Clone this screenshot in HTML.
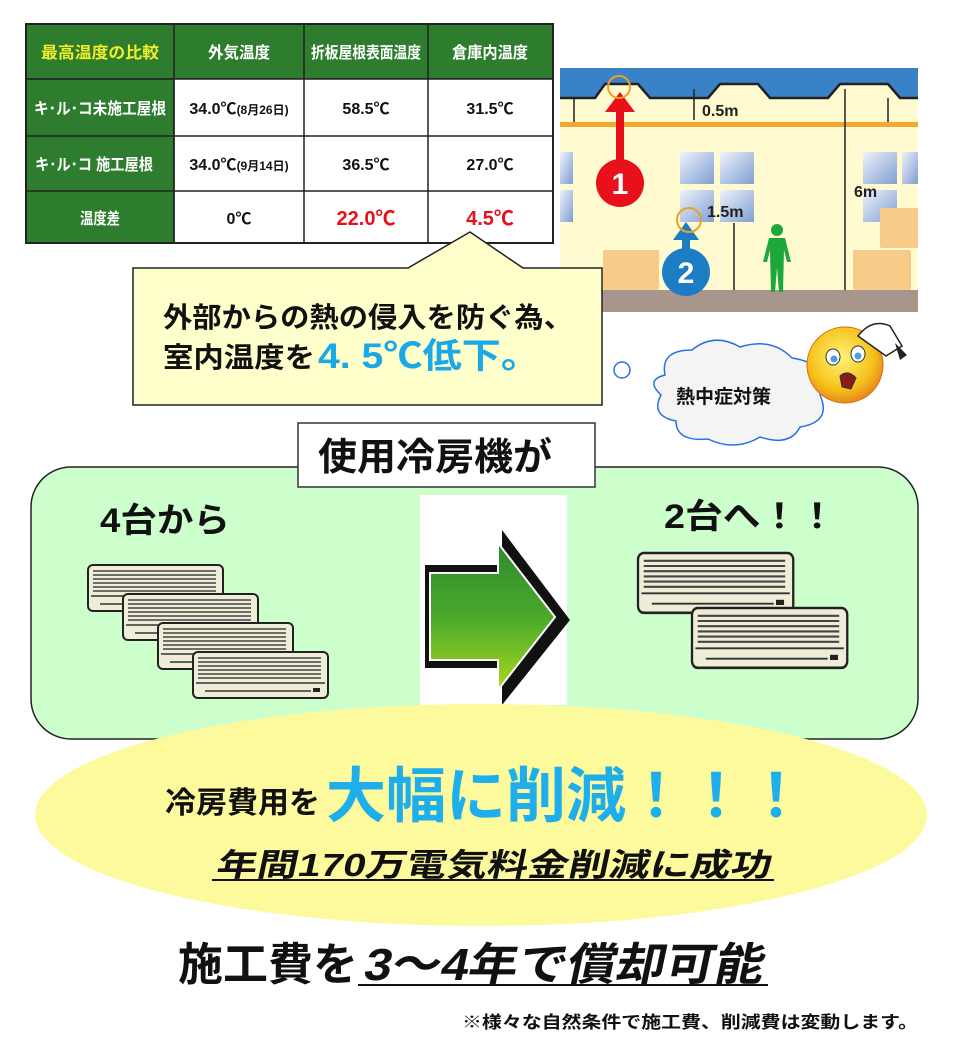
<!DOCTYPE html>
<html><head><meta charset="utf-8"><style>
html,body{margin:0;padding:0;background:#fff;}
svg{display:block;}
text{font-family:"Liberation Sans","Noto Sans CJK JP",sans-serif;font-weight:bold;}
</style></head><body>
<svg width="960" height="1044" viewBox="0 0 960 1044" xmlns="http://www.w3.org/2000/svg">
<defs>
<linearGradient id="ag" x1="0" y1="0" x2="0" y2="1"><stop offset="0" stop-color="#2e8b2e"/><stop offset="0.5" stop-color="#4aa82a"/><stop offset="1" stop-color="#a8d820"/></linearGradient>
<linearGradient id="win" x1="0" y1="0" x2="1" y2="1"><stop offset="0" stop-color="#eef2fb"/><stop offset="1" stop-color="#7f9fd2"/></linearGradient>
<radialGradient id="face" cx="0.45" cy="0.4" r="0.6"><stop offset="0" stop-color="#fff27a"/><stop offset="0.7" stop-color="#f6c21a"/><stop offset="1" stop-color="#e8891a"/></radialGradient>
<g id="ac">
<rect x="0" y="0" width="135" height="46" rx="5" fill="#efecd8" stroke="#222" stroke-width="2"/>
<g stroke="#444" stroke-width="1.6">
<line x1="5" y1="6" x2="128" y2="6"/><line x1="5" y1="10" x2="128" y2="10"/><line x1="5" y1="14" x2="128" y2="14"/><line x1="5" y1="18" x2="128" y2="18"/><line x1="5" y1="22" x2="128" y2="22"/><line x1="5" y1="26" x2="128" y2="26"/>
</g>
<line x1="3" y1="31" x2="132" y2="31" stroke="#333" stroke-width="1.5"/>
<line x1="12" y1="39" x2="118" y2="39" stroke="#333" stroke-width="1.5"/>
<rect x="120" y="36" width="7" height="4" fill="#222"/>
</g>
</defs>

<!-- table -->
<g stroke="#222" stroke-width="1.5">
<rect x="26" y="24" width="527" height="55" fill="#2e7d2e"/>
<rect x="26" y="79" width="148" height="164" fill="#2e7d2e"/>
<rect x="174" y="79" width="379" height="164" fill="#fff"/>
<line x1="26" y1="136" x2="553" y2="136"/><line x1="26" y1="191" x2="553" y2="191"/>
<line x1="174" y1="24" x2="174" y2="243"/><line x1="304" y1="24" x2="304" y2="243"/><line x1="428" y1="24" x2="428" y2="243"/>
<rect x="26" y="24" width="527" height="219" fill="none" stroke-width="2"/>
</g>
<g font-size="16" text-anchor="middle">
<text x="100" y="58" fill="#f2ef2a" textLength="118" lengthAdjust="spacingAndGlyphs">最高温度の比較</text>
<text x="239" y="58" fill="#fff" textLength="62" lengthAdjust="spacingAndGlyphs">外気温度</text>
<text x="366" y="58" fill="#fff" textLength="110" lengthAdjust="spacingAndGlyphs">折板屋根表面温度</text>
<text x="490" y="58" fill="#fff" textLength="76" lengthAdjust="spacingAndGlyphs">倉庫内温度</text>
<text x="100" y="114" fill="#fff" textLength="132" lengthAdjust="spacingAndGlyphs">キ･ル･コ未施工屋根</text>
<text x="94" y="170" fill="#fff" textLength="118" lengthAdjust="spacingAndGlyphs">キ･ル･コ 施工屋根</text>
<text x="100" y="224" fill="#fff" textLength="40" lengthAdjust="spacingAndGlyphs">温度差</text>
<text x="239" y="114" fill="#111" font-weight="normal">34.0℃<tspan font-size="12">(8月26日)</tspan></text>
<text x="239" y="170" fill="#111" font-weight="normal">34.0℃<tspan font-size="12">(9月14日)</tspan></text>
<text x="366" y="114" fill="#111" font-weight="normal">58.5℃</text>
<text x="366" y="170" fill="#111" font-weight="normal">36.5℃</text>
<text x="490" y="114" fill="#111" font-weight="normal">31.5℃</text>
<text x="490" y="170" fill="#111" font-weight="normal">27.0℃</text>
<text x="239" y="224" fill="#111" font-weight="normal">0℃</text>
<text x="366" y="225" fill="#e8101a" font-size="20">22.0℃</text>
<text x="490" y="225" fill="#e8101a" font-size="20">4.5℃</text>
</g>

<!-- building -->
<rect x="560" y="68" width="358" height="244" fill="#fffad0"/>
<path d="M560 68 H918 V98 L900 98 L888 84 H840 L828 98 H770 L758 84 H720 L708 98 H650 L638 84 H605 L595 98 H560 Z" fill="#3a82c8"/>
<path d="M560 98 H595 L605 84 H638 L650 98 H708 L720 84 H758 L770 98 H828 L840 84 H888 L900 98 H918" fill="none" stroke="#222" stroke-width="2.5"/>
<rect x="560" y="122" width="358" height="5" fill="#f0a830"/>
<line x1="574" y1="98" x2="574" y2="122" stroke="#222" stroke-width="1.5"/><line x1="888" y1="98" x2="888" y2="122" stroke="#222" stroke-width="1.5"/>
<rect x="560" y="290" width="358" height="22" fill="#a8968c"/>
<g fill="url(#win)">
<rect x="560" y="152" width="13" height="32"/><rect x="560" y="190" width="13" height="32"/>
<rect x="680" y="152" width="34" height="32"/><rect x="720" y="152" width="34" height="32"/>
<rect x="680" y="190" width="34" height="32"/><rect x="720" y="190" width="34" height="32"/>
<rect x="863" y="152" width="34" height="32"/><rect x="902" y="152" width="16" height="32"/>
<rect x="863" y="190" width="34" height="32"/>
</g>
<g fill="#f8cc88">
<rect x="603" y="250" width="56" height="40" rx="2"/>
<rect x="880" y="208" width="38" height="40" rx="2"/>
<rect x="853" y="250" width="58" height="40" rx="2"/>
</g>
<rect x="616" y="100" width="8" height="70" fill="#e8101a"/>
<path d="M605 112 L620 92 L635 112 Z" fill="#e8101a"/>
<circle cx="620" cy="183" r="24" fill="#e8101a"/>
<text x="620" y="194" font-size="30" fill="#fff" text-anchor="middle">1</text>
<circle cx="619" cy="87" r="11" fill="none" stroke="#f0a020" stroke-width="2"/>
<rect x="682" y="230" width="8" height="20" fill="#1c7cc4"/>
<path d="M673 240 L686 222 L699 240 Z" fill="#1c7cc4"/>
<circle cx="686" cy="272" r="24" fill="#1c7cc4"/>
<text x="686" y="283" font-size="30" fill="#fff" text-anchor="middle">2</text>
<circle cx="689" cy="220" r="12" fill="none" stroke="#f0a020" stroke-width="2"/>
<g stroke="#222" stroke-width="1.5" fill="#222">
<line x1="694" y1="89" x2="694" y2="120"/><line x1="734" y1="223" x2="734" y2="290"/><line x1="845" y1="89" x2="845" y2="290"/>
</g>
<text x="702" y="116" font-size="16" fill="#222">0.5m</text>
<text x="707" y="217" font-size="16" fill="#222">1.5m</text>
<text x="854" y="197" font-size="16" fill="#222">6m</text>
<g fill="#1ea83c"><circle cx="777" cy="230" r="6"/><path d="M769 238 H785 L791 262 L787 262 L784 250 L783 292 L779 292 L777 268 L775 292 L771 292 L770 250 L767 262 L763 262 Z"/></g>

<!-- callout -->
<path d="M133 268 H408 L470 232 L523 268 H602 V405 H133 Z" fill="#ffffcc" stroke="#222" stroke-width="1.5"/>
<text x="163" y="327" font-size="28" fill="#111" textLength="410" lengthAdjust="spacingAndGlyphs">外部からの熱の侵入を防ぐ為、</text>
<text x="163" y="367" font-size="28" fill="#111" textLength="152" lengthAdjust="spacingAndGlyphs">室内温度を</text>
<text x="318" y="368" font-size="35" fill="#1aa8e8" textLength="222" lengthAdjust="spacingAndGlyphs">4. 5℃低下。</text>

<!-- cloud -->
<circle cx="622" cy="370" r="8" fill="#fff" stroke="#2a6ee8" stroke-width="1.5"/>
<path d="M665 375 Q660 350 692 350 Q714 332 740 347 Q772 337 792 358 Q832 364 820 395 Q832 422 800 427 Q790 447 760 437 Q735 452 708 439 Q676 442 676 421 Q650 416 661 395 Q645 380 665 375 Z" fill="#f4f4f4" stroke="#2a6ee8" stroke-width="1.5"/>
<text x="676" y="403" font-size="19" fill="#111">熱中症対策</text>
<circle cx="845" cy="365" r="38" fill="url(#face)" stroke="#d07010" stroke-width="1"/>
<ellipse cx="833" cy="357" rx="7" ry="8" fill="#fff" stroke="#333"/><ellipse cx="858" cy="354" rx="7" ry="8" fill="#fff" stroke="#333"/>
<circle cx="834" cy="359" r="3.5" fill="#4aa0e0"/><circle cx="858" cy="356" r="3.5" fill="#4aa0e0"/>
<path d="M840 376 Q848 369 856 378 L851 389 L842 387 Z" fill="#8a1a1a" stroke="#333"/>
<path d="M858 336 Q872 318 890 326 L902 346 L886 356 Z" fill="#fff" stroke="#222" stroke-width="1.5"/>
<path d="M895 343 L907 355 L900 360" fill="#222"/>

<!-- green box -->
<rect x="31" y="467" width="887" height="272" rx="40" fill="#ccffcc" stroke="#222" stroke-width="1.5"/>
<rect x="298" y="423" width="297" height="64" fill="#fff" stroke="#333" stroke-width="1.5"/>
<text x="318" y="470" font-size="38" fill="#111" textLength="234" lengthAdjust="spacingAndGlyphs">使用冷房機が</text>
<text x="100" y="532" font-size="34" fill="#111" textLength="130" lengthAdjust="spacingAndGlyphs">4台から</text>
<text x="664" y="528" font-size="34" fill="#111" textLength="172" lengthAdjust="spacingAndGlyphs">2台へ！！</text>

<rect x="420" y="495" width="147" height="210" fill="#fff"/>
<path d="M425 565 H502 V530 L570 620 L502 705 V668 H425 Z" fill="#111"/>
<path d="M430 573 H498 V543 L555 617 L498 690 V660 H430 Z" fill="url(#ag)" stroke="#fff" stroke-width="2"/>

<use href="#ac" x="88" y="565"/>
<use href="#ac" x="123" y="594"/>
<use href="#ac" x="158" y="623"/>
<use href="#ac" x="193" y="652"/>
<g transform="translate(638,553) scale(1.15,1.3)"><use href="#ac"/></g>
<g transform="translate(692,608) scale(1.15,1.3)"><use href="#ac"/></g>

<!-- ellipse -->
<ellipse cx="481" cy="815" rx="446" ry="111" fill="#fdfa9e"/>
<text x="165" y="813" font-size="30" fill="#111" textLength="155" lengthAdjust="spacingAndGlyphs">冷房費用を</text>
<text x="326" y="817" font-size="60" fill="#1eaeec">大幅に削減！！！</text>
<g transform="translate(215,876) skewX(-12)">
<text x="0" y="0" font-size="32" fill="#111" textLength="555" lengthAdjust="spacingAndGlyphs">年間170万電気料金削減に成功</text>
</g>
<line x1="212" y1="880" x2="774" y2="880" stroke="#111" stroke-width="2"/>

<text x="178" y="980" font-size="45" fill="#111">施工費を</text>
<g transform="translate(362,980) skewX(-12)"><text x="0" y="0" font-size="45" fill="#111" textLength="400" lengthAdjust="spacingAndGlyphs">3～4年で償却可能</text></g>
<line x1="358" y1="985" x2="768" y2="985" stroke="#111" stroke-width="2"/>
<text x="462" y="1028" font-size="17" fill="#111" textLength="456" lengthAdjust="spacingAndGlyphs">※様々な自然条件で施工費、削減費は変動します。</text>
</svg>
</body></html>
